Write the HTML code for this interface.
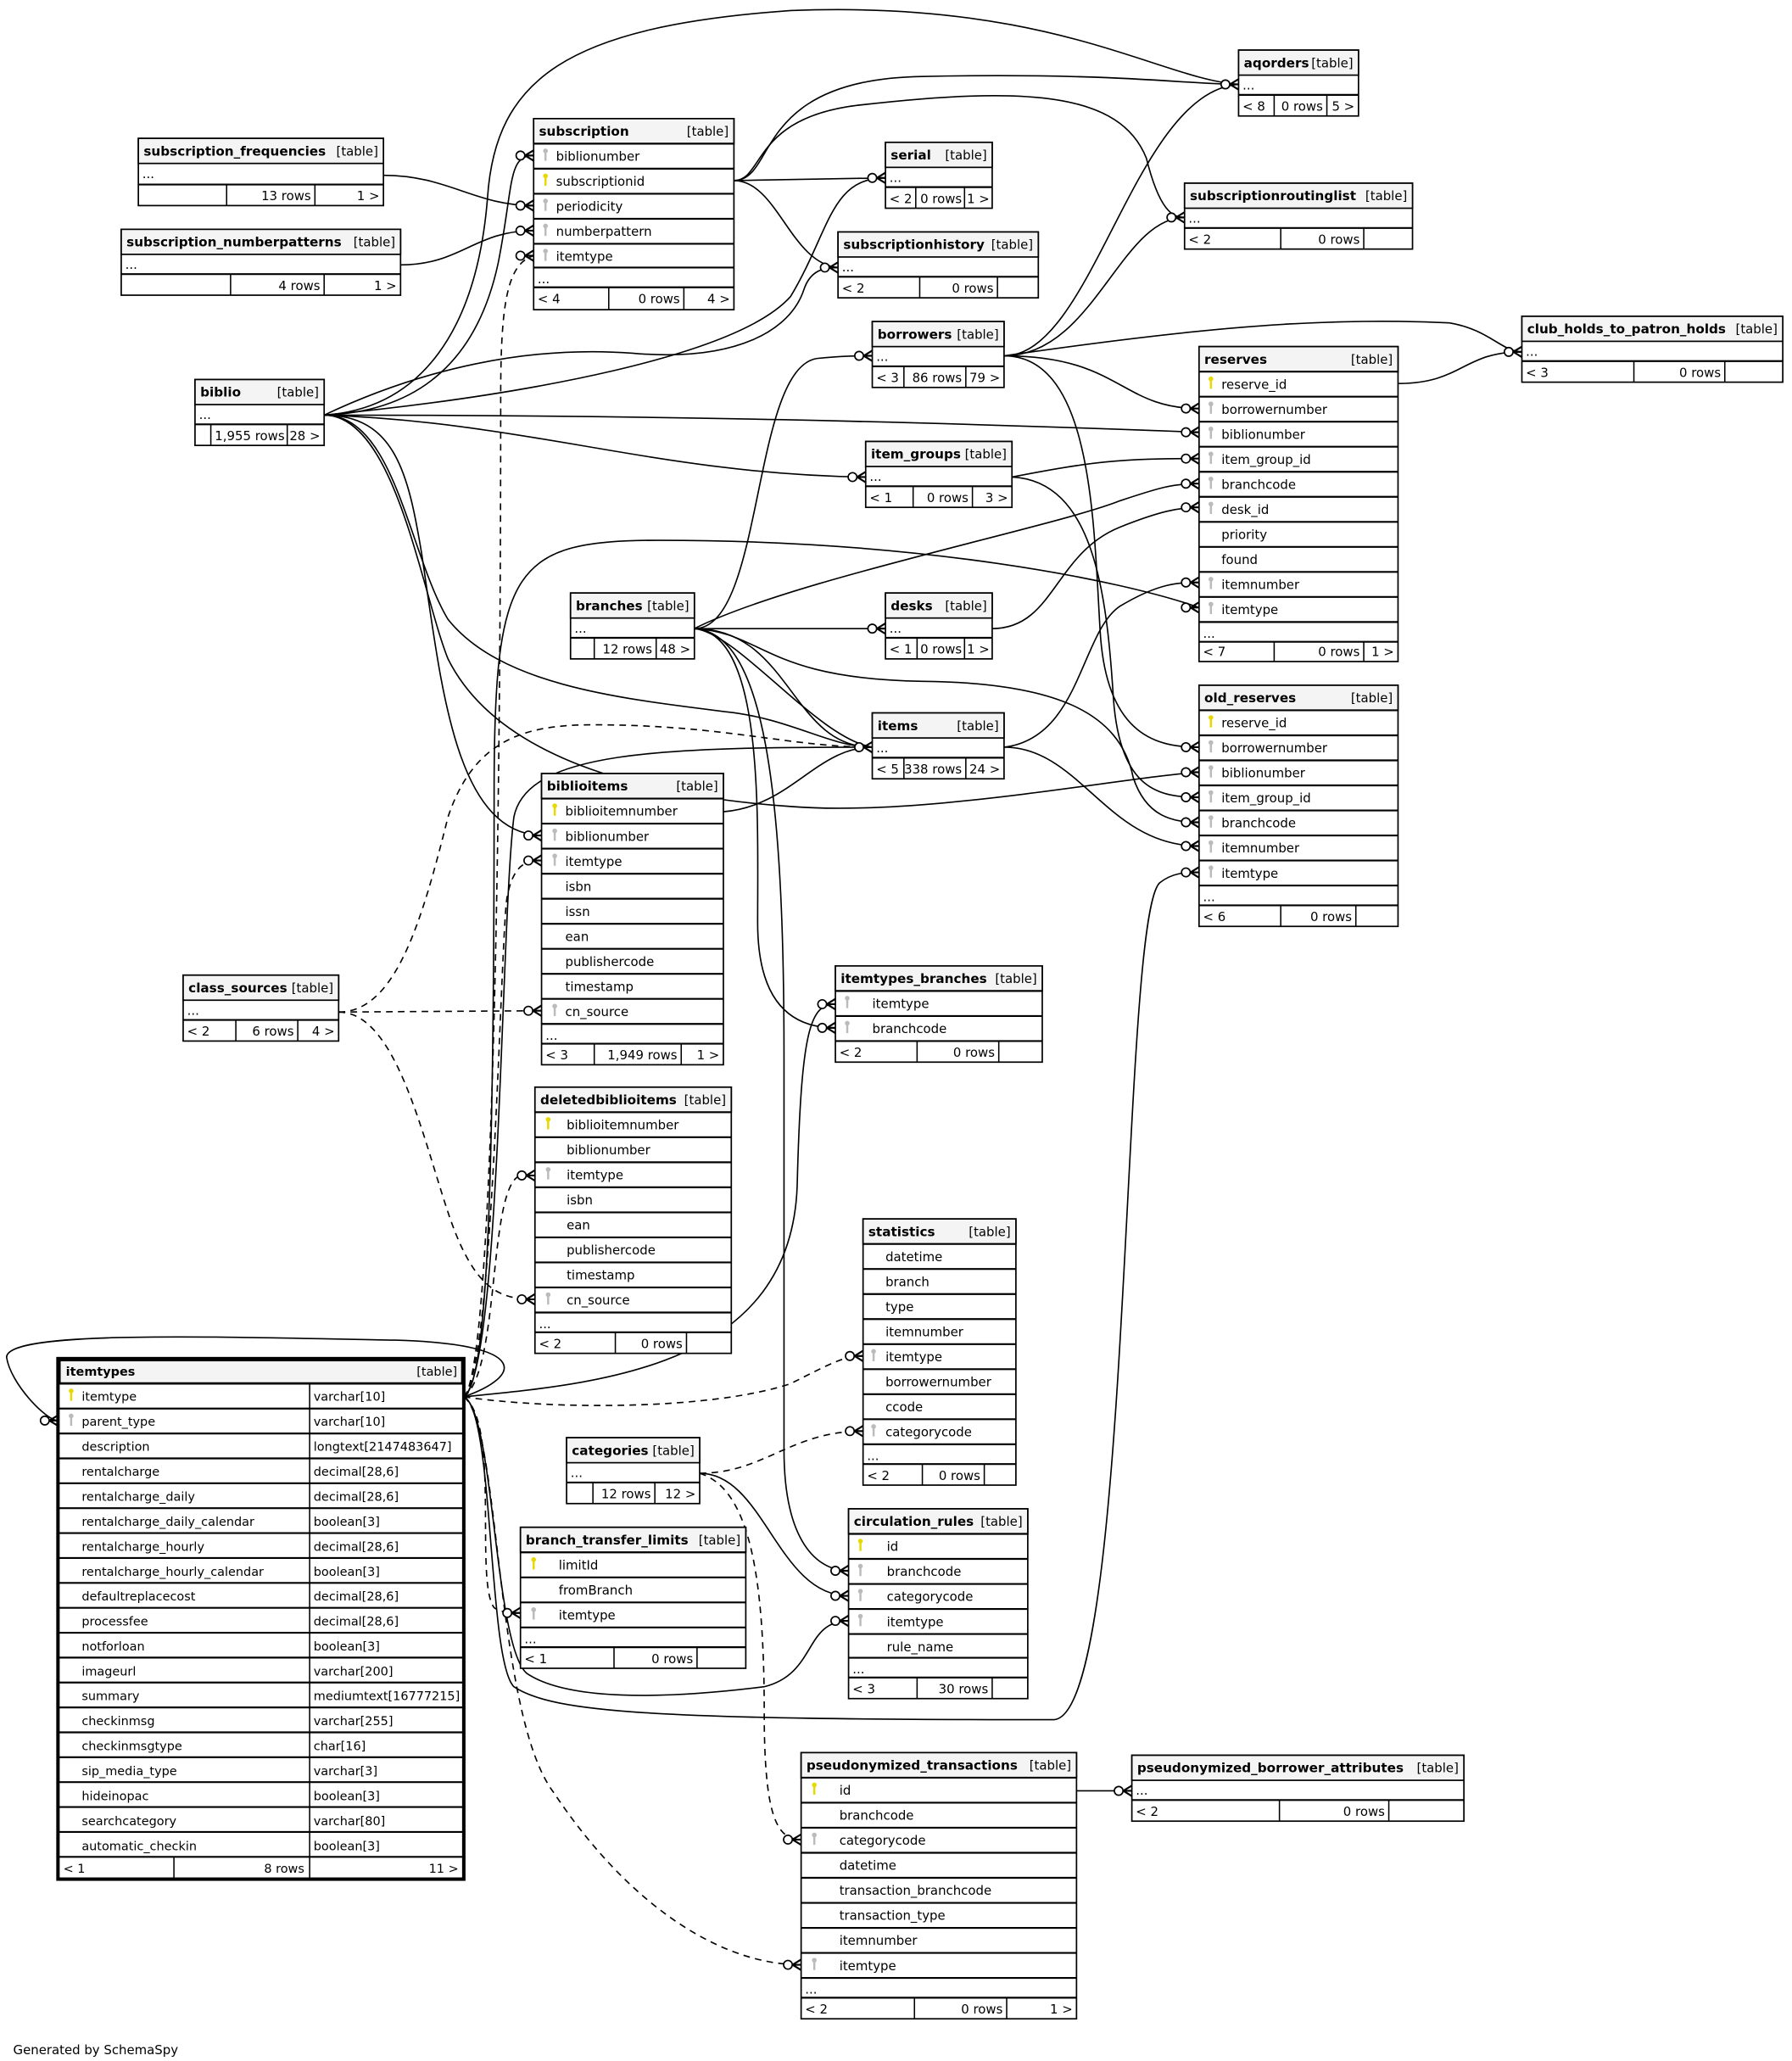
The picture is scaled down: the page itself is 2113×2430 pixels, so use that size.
<!DOCTYPE html>
<html><head><meta charset="utf-8"><style>
html,body{margin:0;padding:0;background:#fff}
svg{display:block}
text{font-family:"DejaVu Sans","Liberation Sans",sans-serif;font-size:9.6px;fill:#000}
.n{font-weight:bold;font-size:9.8px}
.e{text-anchor:end}
.t{fill:#fff;stroke:#000;stroke-width:1.1}
.h{fill:#f4f4f4;stroke:#000;stroke-width:1.1}
.l{stroke:#000;stroke-width:1.4}
.d{stroke:#000;stroke-width:1}
.c{fill:none;stroke:#000;stroke-width:1.05}
.x{fill:none;stroke:#000;stroke-width:1.05;stroke-dasharray:5,4}
.pk{fill:#e6d800}
.fk{fill:#bbb}
.it text{font-size:9.3px}
</style></head><body>
<svg width="2113" height="2430" viewBox="0 0 1360 1564" xmlns="http://www.w3.org/2000/svg">
<defs>
<g id="cf"><circle cx="-10" cy="0" r="3.3" fill="#fff" stroke="#000" stroke-width="1.1"/><path d="M-6.5,0 L0,-4 M-6.5,0 L0,0 M-6.5,0 L0,4" stroke="#000" stroke-width="1.4" fill="none"/></g>
<g id="kp"><circle cx="0" cy="-2.5" r="1.8" class="pk"/><rect x="-0.8" y="-2" width="1.6" height="7" class="pk"/></g>
<g id="kf"><circle cx="0" cy="-2.5" r="1.8" class="fk"/><rect x="-0.8" y="-2" width="1.6" height="7" class="fk"/></g>
</defs>
<rect width="1360" height="1564" fill="#fff"/>

<g>
<path class="c" d="M246,315 C330,312 365,260 378,200 C390,140 385,118 405,118"/>
<path class="c" d="M246,315 C320,310 362,250 370,150 C376,60 430,20 600,8 C800,0 880,60 940,64"/>
<path class="c" d="M246,315 C320,280 400,262 480,268 C560,275 600,250 610,220 C615,205 625,203 636,203"/>
<path class="c" d="M246,315 C400,300 560,270 600,225 C630,175 630,135 672,135"/>
<path class="c" d="M246,315 C500,315 700,320 910,328"/>
<path class="c" d="M246,315 C400,320 500,360 657,362"/>
<path class="c" d="M246,315 C300,315 310,360 320,420 C335,520 345,632 411,634"/>
<path class="c" d="M246,315 C300,315 310,420 340,470 C380,520 470,530 550,540 C600,545 630,567 662,567"/>
<path class="c" d="M246,315 C300,315 320,450 340,500 C380,580 500,605 600,612 C700,620 850,590 910,586"/>
<path class="c" d="M557,137 L672,135"/>
<path class="c" d="M557,137 C590,137 600,200 636,203"/>
<path class="c" d="M557,137 C580,137 570,90 650,80 C780,65 850,70 870,120 C880,160 890,165 899,165"/>
<path class="c" d="M557,137 C590,137 570,60 700,58 C850,55 900,64 940,64"/>
<path class="c" d="M291,133 C340,133 360,156 405,156"/>
<path class="c" d="M304,201 C350,201 360,175 405,175"/>
<path class="c" d="M762,270 C830,270 860,70 940,64"/>
<path class="c" d="M762,270 C830,270 850,165 899,165"/>
<path class="c" d="M762,270 C900,250 1000,240 1100,245 C1130,250 1140,267 1155,267"/>
<path class="c" d="M762,270 C850,270 850,310 910,310"/>
<path class="c" d="M762,270 C830,270 830,400 835,480 C840,560 880,567 910,567"/>
<path class="c" d="M1061,291 C1110,291 1110,267 1155,267"/>
<path class="c" d="M768,362 C830,350 850,348 910,348"/>
<path class="c" d="M768,362 C830,365 840,450 845,530 C850,600 880,605 910,605"/>
<path class="c" d="M527,477 C580,477 570,280 620,272 C640,270 650,270 662,270"/>
<path class="c" d="M527,477 C600,440 800,400 850,380 C880,370 890,367 910,367"/>
<path class="c" d="M527,477 L672,477"/>
<path class="c" d="M527,477 C600,477 600,567 662,567"/>
<path class="c" d="M527,477 C560,480 620,560 662,567"/>
<path class="c" d="M527,477 C580,480 580,515 700,517 C800,518 850,540 860,590 C870,620 890,624 910,624"/>
<path class="c" d="M527,477 C580,480 575,620 575,700 C575,760 600,780 634,780"/>
<path class="c" d="M527,477 C580,480 595,600 595,800 L595,1100 C595,1170 620,1192 644,1192"/>
<path class="c" d="M753,477 C800,477 800,420 850,400 C880,388 895,385 910,385"/>
<path class="c" d="M762,567 C820,560 820,480 850,460 C880,442 895,442 910,442"/>
<path class="c" d="M762,567 C820,567 840,642 910,642"/>
<path class="c" d="M549,616 C600,612 620,567 662,567"/>
<path class="c" d="M352,1060 C395,1045 405,1020 300,1017 C150,1014 5,1010 5,1030 C8,1050 35,1078 44,1078"/>
<path class="c" d="M352,1060 C370,1050 375,900 375,600 C375,430 390,410 500,410 C700,410 850,440 910,461"/>
<path class="c" d="M352,1060 C375,1070 370,1260 390,1280 C420,1300 500,1305 800,1305 C860,1300 850,700 880,670 C890,662 900,662 910,662"/>
<path class="c" d="M352,1060 C375,1070 375,1250 400,1270 C430,1290 500,1290 580,1280 C620,1270 610,1230 644,1230"/>
<path class="c" d="M352,1060 C450,1050 600,1040 605,900 C608,780 615,762 634,762"/>
<path class="c" d="M352,1060 C380,1040 380,700 390,620 C400,570 500,567 662,567"/>
<path class="x" d="M352,1060 C375,1040 380,600 380,300 C380,230 385,200 405,194"/>
<path class="x" d="M352,1060 C375,1040 380,700 385,680 C390,655 400,653 411,653"/>
<path class="x" d="M352,1060 C380,1040 370,900 395,892 L406,892"/>
<path class="x" d="M352,1060 C420,1070 540,1070 600,1050 C630,1035 640,1029 655,1029"/>
<path class="x" d="M352,1060 C380,1080 360,1200 375,1220 C380,1224 390,1224 395,1224"/>
<path class="x" d="M352,1060 C380,1080 375,1300 420,1360 C480,1450 550,1491 608,1491"/>
<path class="x" d="M257,768 L411,767"/>
<path class="x" d="M257,768 C300,768 320,860 340,920 C360,980 380,986 406,986"/>
<path class="x" d="M257,768 C300,768 320,700 340,620 C360,560 400,550 450,550 C550,550 600,567 662,567"/>
<path class="x" d="M531,1118 C580,1118 600,1086 655,1086"/>
<path class="c" d="M531,1118 C580,1118 590,1211 644,1211"/>
<path class="x" d="M531,1118 C570,1130 580,1200 580,1300 C580,1380 590,1396 608,1396"/>
<path class="c" d="M817,1359 L859,1359"/>
</g>

<g><rect class="t" x="940" y="38" width="91" height="50"/><rect class="h" x="940" y="38" width="91" height="19"/>
<text class="n" x="944" y="51">aqorders</text><text class="e" x="1027" y="51">[table]</text>
<text x="943" y="68">...</text><line class="l" x1="940" y1="72" x2="1031" y2="72"/>
<line class="d" x1="967" y1="72" x2="967" y2="88"/><line class="d" x1="1007" y1="72" x2="1007" y2="88"/>
<text x="943" y="84">&lt; 8</text><text class="e" x="1004" y="84">0 rows</text><text class="e" x="1028" y="84">5 &gt;</text></g>

<g><rect class="t" x="105" y="105" width="186" height="51"/><rect class="h" x="105" y="105" width="186" height="19"/>
<text class="n" x="109" y="118">subscription_frequencies</text><text class="e" x="287" y="118">[table]</text>
<text x="108" y="135">...</text><line class="l" x1="105" y1="140" x2="291" y2="140"/>
<line class="d" x1="172" y1="140" x2="172" y2="156"/><line class="d" x1="239" y1="140" x2="239" y2="156"/>
<text class="e" x="236" y="152">13 rows</text><text class="e" x="288" y="152">1 &gt;</text></g>

<g><rect class="t" x="92" y="174" width="212" height="50"/><rect class="h" x="92" y="174" width="212" height="19"/>
<text class="n" x="96" y="187">subscription_numberpatterns</text><text class="e" x="300" y="187">[table]</text>
<text x="95" y="204">...</text><line class="l" x1="92" y1="208" x2="304" y2="208"/>
<line class="d" x1="175" y1="208" x2="175" y2="224"/><line class="d" x1="246" y1="208" x2="246" y2="224"/>
<text class="e" x="243" y="220">4 rows</text><text class="e" x="301" y="220">1 &gt;</text></g>

<g><rect class="t" x="405" y="90" width="152" height="145"/><rect class="h" x="405" y="90" width="152" height="19"/>
<text class="n" x="409" y="103">subscription</text><text class="e" x="553" y="103">[table]</text>
<line class="l" x1="405" y1="109" x2="557" y2="109"/><use href="#kf" x="414" y="117"/><text x="422" y="122">biblionumber</text>
<line class="l" x1="405" y1="128" x2="557" y2="128"/><use href="#kp" x="414" y="136"/><text x="422" y="141">subscriptionid</text>
<line class="l" x1="405" y1="147" x2="557" y2="147"/><use href="#kf" x="414" y="155"/><text x="422" y="160">periodicity</text>
<line class="l" x1="405" y1="166" x2="557" y2="166"/><use href="#kf" x="414" y="174"/><text x="422" y="179">numberpattern</text>
<line class="l" x1="405" y1="185" x2="557" y2="185"/><use href="#kf" x="414" y="193"/><text x="422" y="198">itemtype</text>
<line class="l" x1="405" y1="203" x2="557" y2="203"/><text x="408" y="215">...</text>
<line class="l" x1="405" y1="218" x2="557" y2="218"/>
<line class="d" x1="462" y1="218" x2="462" y2="235"/><line class="d" x1="519" y1="218" x2="519" y2="235"/>
<text x="408" y="230">&lt; 4</text><text class="e" x="516" y="230">0 rows</text><text class="e" x="554" y="230">4 &gt;</text></g>

<g><rect class="t" x="672" y="108" width="81" height="50"/><rect class="h" x="672" y="108" width="81" height="19"/>
<text class="n" x="676" y="121">serial</text><text class="e" x="749" y="121">[table]</text>
<text x="675" y="138">...</text><line class="l" x1="672" y1="142" x2="753" y2="142"/>
<line class="d" x1="695" y1="142" x2="695" y2="158"/><line class="d" x1="732" y1="142" x2="732" y2="158"/>
<text x="675" y="154">&lt; 2</text><text class="e" x="730" y="154">0 rows</text><text class="e" x="751" y="154">1 &gt;</text></g>

<g><rect class="t" x="636" y="176" width="152" height="50"/><rect class="h" x="636" y="176" width="152" height="19"/>
<text class="n" x="640" y="189">subscriptionhistory</text><text class="e" x="784" y="189">[table]</text>
<text x="639" y="206">...</text><line class="l" x1="636" y1="210" x2="788" y2="210"/>
<line class="d" x1="698" y1="210" x2="698" y2="226"/><line class="d" x1="757" y1="210" x2="757" y2="226"/>
<text x="639" y="222">&lt; 2</text><text class="e" x="754" y="222">0 rows</text></g>

<g><rect class="t" x="899" y="139" width="173" height="50"/><rect class="h" x="899" y="139" width="173" height="19"/>
<text class="n" x="903" y="152">subscriptionroutinglist</text><text class="e" x="1068" y="152">[table]</text>
<text x="902" y="169">...</text><line class="l" x1="899" y1="173" x2="1072" y2="173"/>
<line class="d" x1="972" y1="173" x2="972" y2="189"/><line class="d" x1="1035" y1="173" x2="1035" y2="189"/>
<text x="902" y="185">&lt; 2</text><text class="e" x="1032" y="185">0 rows</text></g>

<g><rect class="t" x="662" y="244" width="100" height="50"/><rect class="h" x="662" y="244" width="100" height="19"/>
<text class="n" x="666" y="257">borrowers</text><text class="e" x="758" y="257">[table]</text>
<text x="665" y="274">...</text><line class="l" x1="662" y1="278" x2="762" y2="278"/>
<line class="d" x1="686" y1="278" x2="686" y2="294"/><line class="d" x1="733" y1="278" x2="733" y2="294"/>
<text x="665" y="290">&lt; 3</text><text class="e" x="730" y="290">86 rows</text><text class="e" x="759" y="290">79 &gt;</text></g>

<g><rect class="t" x="1155" y="240" width="198" height="50"/><rect class="h" x="1155" y="240" width="198" height="19"/>
<text class="n" x="1159" y="253">club_holds_to_patron_holds</text><text class="e" x="1349" y="253">[table]</text>
<text x="1158" y="270">...</text><line class="l" x1="1155" y1="274" x2="1353" y2="274"/>
<line class="d" x1="1240" y1="274" x2="1240" y2="290"/><line class="d" x1="1309" y1="274" x2="1309" y2="290"/>
<text x="1158" y="286">&lt; 3</text><text class="e" x="1306" y="286">0 rows</text></g>

<g><rect class="t" x="148" y="288" width="98" height="50"/><rect class="h" x="148" y="288" width="98" height="19"/>
<text class="n" x="152" y="301">biblio</text><text class="e" x="242" y="301">[table]</text>
<text x="151" y="318">...</text><line class="l" x1="148" y1="322" x2="246" y2="322"/>
<line class="d" x1="160" y1="322" x2="160" y2="338"/><line class="d" x1="218" y1="322" x2="218" y2="338"/>
<text class="e" x="216" y="334">1,955 rows</text><text class="e" x="243" y="334">28 &gt;</text></g>

<g><rect class="t" x="910" y="263" width="151" height="239"/><rect class="h" x="910" y="263" width="151" height="19"/>
<text class="n" x="914" y="276">reserves</text><text class="e" x="1057" y="276">[table]</text>
<line class="l" x1="910" y1="282" x2="1061" y2="282"/><use href="#kp" x="919" y="290"/><text x="927" y="295">reserve_id</text>
<line class="l" x1="910" y1="301" x2="1061" y2="301"/><use href="#kf" x="919" y="309"/><text x="927" y="314">borrowernumber</text>
<line class="l" x1="910" y1="320" x2="1061" y2="320"/><use href="#kf" x="919" y="328"/><text x="927" y="333">biblionumber</text>
<line class="l" x1="910" y1="339" x2="1061" y2="339"/><use href="#kf" x="919" y="347"/><text x="927" y="352">item_group_id</text>
<line class="l" x1="910" y1="358" x2="1061" y2="358"/><use href="#kf" x="919" y="366"/><text x="927" y="371">branchcode</text>
<line class="l" x1="910" y1="377" x2="1061" y2="377"/><use href="#kf" x="919" y="385"/><text x="927" y="390">desk_id</text>
<line class="l" x1="910" y1="396" x2="1061" y2="396"/><text x="927" y="409">priority</text>
<line class="l" x1="910" y1="415" x2="1061" y2="415"/><text x="927" y="428">found</text>
<line class="l" x1="910" y1="434" x2="1061" y2="434"/><use href="#kf" x="919" y="442"/><text x="927" y="447">itemnumber</text>
<line class="l" x1="910" y1="453" x2="1061" y2="453"/><use href="#kf" x="919" y="461"/><text x="927" y="466">itemtype</text>
<line class="l" x1="910" y1="472" x2="1061" y2="472"/><text x="913" y="484">...</text>
<line class="l" x1="910" y1="487" x2="1061" y2="487"/>
<line class="d" x1="967" y1="487" x2="967" y2="502"/><line class="d" x1="1035" y1="487" x2="1035" y2="502"/>
<text x="913" y="498">&lt; 7</text><text class="e" x="1032" y="498">0 rows</text><text class="e" x="1058" y="498">1 &gt;</text></g>

<g><rect class="t" x="657" y="335" width="111" height="50"/><rect class="h" x="657" y="335" width="111" height="19"/>
<text class="n" x="661" y="348">item_groups</text><text class="e" x="764" y="348">[table]</text>
<text x="660" y="365">...</text><line class="l" x1="657" y1="369" x2="768" y2="369"/>
<line class="d" x1="693" y1="369" x2="693" y2="385"/><line class="d" x1="738" y1="369" x2="738" y2="385"/>
<text x="660" y="381">&lt; 1</text><text class="e" x="735" y="381">0 rows</text><text class="e" x="765" y="381">3 &gt;</text></g>

<g><rect class="t" x="433" y="450" width="94" height="50"/><rect class="h" x="433" y="450" width="94" height="19"/>
<text class="n" x="437" y="463">branches</text><text class="e" x="523" y="463">[table]</text>
<text x="436" y="480">...</text><line class="l" x1="433" y1="484" x2="527" y2="484"/>
<line class="d" x1="451" y1="484" x2="451" y2="500"/><line class="d" x1="498" y1="484" x2="498" y2="500"/>
<text class="e" x="495" y="496">12 rows</text><text class="e" x="524" y="496">48 &gt;</text></g>

<g><rect class="t" x="672" y="450" width="81" height="50"/><rect class="h" x="672" y="450" width="81" height="19"/>
<text class="n" x="676" y="463">desks</text><text class="e" x="749" y="463">[table]</text>
<text x="675" y="480">...</text><line class="l" x1="672" y1="484" x2="753" y2="484"/>
<line class="d" x1="696" y1="484" x2="696" y2="500"/><line class="d" x1="732" y1="484" x2="732" y2="500"/>
<text x="675" y="496">&lt; 1</text><text class="e" x="730" y="496">0 rows</text><text class="e" x="751" y="496">1 &gt;</text></g>

<g><rect class="t" x="662" y="541" width="100" height="50"/><rect class="h" x="662" y="541" width="100" height="19"/>
<text class="n" x="666" y="554">items</text><text class="e" x="758" y="554">[table]</text>
<text x="665" y="571">...</text><line class="l" x1="662" y1="575" x2="762" y2="575"/>
<line class="d" x1="686" y1="575" x2="686" y2="591"/><line class="d" x1="733" y1="575" x2="733" y2="591"/>
<text x="665" y="587">&lt; 5</text><text class="e" x="730" y="587">338 rows</text><text class="e" x="759" y="587">24 &gt;</text></g>

<g><rect class="t" x="910" y="520" width="151" height="183"/><rect class="h" x="910" y="520" width="151" height="19"/>
<text class="n" x="914" y="533">old_reserves</text><text class="e" x="1057" y="533">[table]</text>
<line class="l" x1="910" y1="539" x2="1061" y2="539"/><use href="#kp" x="919" y="547"/><text x="927" y="552">reserve_id</text>
<line class="l" x1="910" y1="558" x2="1061" y2="558"/><use href="#kf" x="919" y="566"/><text x="927" y="571">borrowernumber</text>
<line class="l" x1="910" y1="577" x2="1061" y2="577"/><use href="#kf" x="919" y="585"/><text x="927" y="590">biblionumber</text>
<line class="l" x1="910" y1="596" x2="1061" y2="596"/><use href="#kf" x="919" y="604"/><text x="927" y="609">item_group_id</text>
<line class="l" x1="910" y1="615" x2="1061" y2="615"/><use href="#kf" x="919" y="623"/><text x="927" y="628">branchcode</text>
<line class="l" x1="910" y1="634" x2="1061" y2="634"/><use href="#kf" x="919" y="642"/><text x="927" y="647">itemnumber</text>
<line class="l" x1="910" y1="653" x2="1061" y2="653"/><use href="#kf" x="919" y="661"/><text x="927" y="666">itemtype</text>
<line class="l" x1="910" y1="672" x2="1061" y2="672"/><text x="913" y="684">...</text>
<line class="l" x1="910" y1="687" x2="1061" y2="687"/>
<line class="d" x1="972" y1="687" x2="972" y2="703"/><line class="d" x1="1029" y1="687" x2="1029" y2="703"/>
<text x="913" y="699">&lt; 6</text><text class="e" x="1026" y="699">0 rows</text></g>

<g><rect class="t" x="411" y="587" width="138" height="221"/><rect class="h" x="411" y="587" width="138" height="19"/>
<text class="n" x="415" y="600">biblioitems</text><text class="e" x="545" y="600">[table]</text>
<line class="l" x1="411" y1="606" x2="549" y2="606"/><use href="#kp" x="421" y="614"/><text x="429" y="619">biblioitemnumber</text>
<line class="l" x1="411" y1="625" x2="549" y2="625"/><use href="#kf" x="421" y="633"/><text x="429" y="638">biblionumber</text>
<line class="l" x1="411" y1="644" x2="549" y2="644"/><use href="#kf" x="421" y="652"/><text x="429" y="657">itemtype</text>
<line class="l" x1="411" y1="663" x2="549" y2="663"/><text x="429" y="676">isbn</text>
<line class="l" x1="411" y1="682" x2="549" y2="682"/><text x="429" y="695">issn</text>
<line class="l" x1="411" y1="701" x2="549" y2="701"/><text x="429" y="714">ean</text>
<line class="l" x1="411" y1="720" x2="549" y2="720"/><text x="429" y="733">publishercode</text>
<line class="l" x1="411" y1="739" x2="549" y2="739"/><text x="429" y="752">timestamp</text>
<line class="l" x1="411" y1="758" x2="549" y2="758"/><use href="#kf" x="421" y="766"/><text x="429" y="771">cn_source</text>
<line class="l" x1="411" y1="777" x2="549" y2="777"/><text x="414" y="789">...</text>
<line class="l" x1="411" y1="792" x2="549" y2="792"/>
<line class="d" x1="451" y1="792" x2="451" y2="808"/><line class="d" x1="517" y1="792" x2="517" y2="808"/>
<text x="414" y="804">&lt; 3</text><text class="e" x="514" y="804">1,949 rows</text><text class="e" x="546" y="804">1 &gt;</text></g>

<g><rect class="t" x="139" y="740" width="118" height="50"/><rect class="h" x="139" y="740" width="118" height="19"/>
<text class="n" x="143" y="753">class_sources</text><text class="e" x="253" y="753">[table]</text>
<text x="142" y="770">...</text><line class="l" x1="139" y1="774" x2="257" y2="774"/>
<line class="d" x1="179" y1="774" x2="179" y2="790"/><line class="d" x1="226" y1="774" x2="226" y2="790"/>
<text x="142" y="786">&lt; 2</text><text class="e" x="223" y="786">6 rows</text><text class="e" x="254" y="786">4 &gt;</text></g>

<g><rect class="t" x="634" y="733" width="157" height="73"/><rect class="h" x="634" y="733" width="157" height="19"/>
<text class="n" x="638" y="746">itemtypes_branches</text><text class="e" x="787" y="746">[table]</text>
<line class="l" x1="634" y1="752" x2="791" y2="752"/><use href="#kf" x="643" y="760"/><text x="662" y="765">itemtype</text>
<line class="l" x1="634" y1="771" x2="791" y2="771"/><use href="#kf" x="643" y="779"/><text x="662" y="784">branchcode</text>
<line class="l" x1="634" y1="790" x2="791" y2="790"/>
<line class="d" x1="696" y1="790" x2="696" y2="806"/><line class="d" x1="758" y1="790" x2="758" y2="806"/>
<text x="637" y="802">&lt; 2</text><text class="e" x="755" y="802">0 rows</text></g>

<g><rect class="t" x="406" y="825" width="149" height="202"/><rect class="h" x="406" y="825" width="149" height="19"/>
<text class="n" x="410" y="838">deletedbiblioitems</text><text class="e" x="551" y="838">[table]</text>
<line class="l" x1="406" y1="844" x2="555" y2="844"/><use href="#kp" x="416" y="852"/><text x="430" y="857">biblioitemnumber</text>
<line class="l" x1="406" y1="863" x2="555" y2="863"/><text x="430" y="876">biblionumber</text>
<line class="l" x1="406" y1="882" x2="555" y2="882"/><use href="#kf" x="416" y="890"/><text x="430" y="895">itemtype</text>
<line class="l" x1="406" y1="901" x2="555" y2="901"/><text x="430" y="914">isbn</text>
<line class="l" x1="406" y1="920" x2="555" y2="920"/><text x="430" y="933">ean</text>
<line class="l" x1="406" y1="939" x2="555" y2="939"/><text x="430" y="952">publishercode</text>
<line class="l" x1="406" y1="958" x2="555" y2="958"/><text x="430" y="971">timestamp</text>
<line class="l" x1="406" y1="977" x2="555" y2="977"/><use href="#kf" x="416" y="985"/><text x="430" y="990">cn_source</text>
<line class="l" x1="406" y1="996" x2="555" y2="996"/><text x="409" y="1008">...</text>
<line class="l" x1="406" y1="1011" x2="555" y2="1011"/>
<line class="d" x1="467" y1="1011" x2="467" y2="1027"/><line class="d" x1="521" y1="1011" x2="521" y2="1027"/>
<text x="409" y="1023">&lt; 2</text><text class="e" x="518" y="1023">0 rows</text></g>

<g><rect class="t" x="655" y="925" width="116" height="202"/><rect class="h" x="655" y="925" width="116" height="19"/>
<text class="n" x="659" y="938">statistics</text><text class="e" x="767" y="938">[table]</text>
<line class="l" x1="655" y1="944" x2="771" y2="944"/><text x="672" y="957">datetime</text>
<line class="l" x1="655" y1="963" x2="771" y2="963"/><text x="672" y="976">branch</text>
<line class="l" x1="655" y1="982" x2="771" y2="982"/><text x="672" y="995">type</text>
<line class="l" x1="655" y1="1001" x2="771" y2="1001"/><text x="672" y="1014">itemnumber</text>
<line class="l" x1="655" y1="1020" x2="771" y2="1020"/><use href="#kf" x="663" y="1028"/><text x="672" y="1033">itemtype</text>
<line class="l" x1="655" y1="1039" x2="771" y2="1039"/><text x="672" y="1052">borrowernumber</text>
<line class="l" x1="655" y1="1058" x2="771" y2="1058"/><text x="672" y="1071">ccode</text>
<line class="l" x1="655" y1="1077" x2="771" y2="1077"/><use href="#kf" x="663" y="1085"/><text x="672" y="1090">categorycode</text>
<line class="l" x1="655" y1="1096" x2="771" y2="1096"/><text x="658" y="1108">...</text>
<line class="l" x1="655" y1="1111" x2="771" y2="1111"/>
<line class="d" x1="700" y1="1111" x2="700" y2="1127"/><line class="d" x1="747" y1="1111" x2="747" y2="1127"/>
<text x="658" y="1123">&lt; 2</text><text class="e" x="744" y="1123">0 rows</text></g>

<g><rect class="t" x="430" y="1091" width="101" height="50"/><rect class="h" x="430" y="1091" width="101" height="19"/>
<text class="n" x="434" y="1104">categories</text><text class="e" x="527" y="1104">[table]</text>
<text x="433" y="1121">...</text><line class="l" x1="430" y1="1125" x2="531" y2="1125"/>
<line class="d" x1="450" y1="1125" x2="450" y2="1141"/><line class="d" x1="497" y1="1125" x2="497" y2="1141"/>
<text class="e" x="494" y="1137">12 rows</text><text class="e" x="528" y="1137">12 &gt;</text></g>

<g><rect class="t" x="395" y="1159" width="171" height="107"/><rect class="h" x="395" y="1159" width="171" height="19"/>
<text class="n" x="399" y="1172">branch_transfer_limits</text><text class="e" x="562" y="1172">[table]</text>
<line class="l" x1="395" y1="1178" x2="566" y2="1178"/><use href="#kp" x="405" y="1186"/><text x="424" y="1191">limitId</text>
<line class="l" x1="395" y1="1197" x2="566" y2="1197"/><text x="424" y="1210">fromBranch</text>
<line class="l" x1="395" y1="1216" x2="566" y2="1216"/><use href="#kf" x="405" y="1224"/><text x="424" y="1229">itemtype</text>
<line class="l" x1="395" y1="1235" x2="566" y2="1235"/><text x="398" y="1247">...</text>
<line class="l" x1="395" y1="1250" x2="566" y2="1250"/>
<line class="d" x1="466" y1="1250" x2="466" y2="1266"/><line class="d" x1="529" y1="1250" x2="529" y2="1266"/>
<text x="398" y="1262">&lt; 1</text><text class="e" x="526" y="1262">0 rows</text></g>

<g><rect class="t" x="644" y="1145" width="136" height="144"/><rect class="h" x="644" y="1145" width="136" height="19"/>
<text class="n" x="648" y="1158">circulation_rules</text><text class="e" x="776" y="1158">[table]</text>
<line class="l" x1="644" y1="1164" x2="780" y2="1164"/><use href="#kp" x="653" y="1172"/><text x="673" y="1177">id</text>
<line class="l" x1="644" y1="1183" x2="780" y2="1183"/><use href="#kf" x="653" y="1191"/><text x="673" y="1196">branchcode</text>
<line class="l" x1="644" y1="1202" x2="780" y2="1202"/><use href="#kf" x="653" y="1210"/><text x="673" y="1215">categorycode</text>
<line class="l" x1="644" y1="1221" x2="780" y2="1221"/><use href="#kf" x="653" y="1229"/><text x="673" y="1234">itemtype</text>
<line class="l" x1="644" y1="1240" x2="780" y2="1240"/><text x="673" y="1253">rule_name</text>
<line class="l" x1="644" y1="1258" x2="780" y2="1258"/><text x="647" y="1270">...</text>
<line class="l" x1="644" y1="1273" x2="780" y2="1273"/>
<line class="d" x1="696" y1="1273" x2="696" y2="1289"/><line class="d" x1="753" y1="1273" x2="753" y2="1289"/>
<text x="647" y="1285">&lt; 3</text><text class="e" x="750" y="1285">30 rows</text></g>

<g><rect class="t" x="608" y="1330" width="209" height="202"/><rect class="h" x="608" y="1330" width="209" height="19"/>
<text class="n" x="612" y="1343">pseudonymized_transactions</text><text class="e" x="813" y="1343">[table]</text>
<line class="l" x1="608" y1="1349" x2="817" y2="1349"/><use href="#kp" x="618" y="1357"/><text x="637" y="1362">id</text>
<line class="l" x1="608" y1="1368" x2="817" y2="1368"/><text x="637" y="1381">branchcode</text>
<line class="l" x1="608" y1="1387" x2="817" y2="1387"/><use href="#kf" x="618" y="1395"/><text x="637" y="1400">categorycode</text>
<line class="l" x1="608" y1="1406" x2="817" y2="1406"/><text x="637" y="1419">datetime</text>
<line class="l" x1="608" y1="1425" x2="817" y2="1425"/><text x="637" y="1438">transaction_branchcode</text>
<line class="l" x1="608" y1="1444" x2="817" y2="1444"/><text x="637" y="1457">transaction_type</text>
<line class="l" x1="608" y1="1463" x2="817" y2="1463"/><text x="637" y="1476">itemnumber</text>
<line class="l" x1="608" y1="1482" x2="817" y2="1482"/><use href="#kf" x="618" y="1490"/><text x="637" y="1495">itemtype</text>
<line class="l" x1="608" y1="1501" x2="817" y2="1501"/><text x="611" y="1513">...</text>
<line class="l" x1="608" y1="1516" x2="817" y2="1516"/>
<line class="d" x1="694" y1="1516" x2="694" y2="1532"/><line class="d" x1="764" y1="1516" x2="764" y2="1532"/>
<text x="611" y="1528">&lt; 2</text><text class="e" x="761" y="1528">0 rows</text><text class="e" x="814" y="1528">1 &gt;</text></g>

<g><rect class="t" x="859" y="1332" width="252" height="50"/><rect class="h" x="859" y="1332" width="252" height="19"/>
<text class="n" x="863" y="1345">pseudonymized_borrower_attributes</text><text class="e" x="1107" y="1345">[table]</text>
<text x="862" y="1362">...</text><line class="l" x1="859" y1="1366" x2="1111" y2="1366"/>
<line class="d" x1="971" y1="1366" x2="971" y2="1382"/><line class="d" x1="1054" y1="1366" x2="1054" y2="1382"/>
<text x="862" y="1378">&lt; 2</text><text class="e" x="1051" y="1378">0 rows</text></g>

<!-- itemtypes -->
<g class="it"><rect x="44" y="1031" width="308" height="395" fill="#fff" stroke="#000" stroke-width="2.6"/><rect class="h" x="45.5" y="1032.5" width="305" height="17" stroke="none"/>
<text class="n" x="50" y="1044">itemtypes</text><text class="e" x="347" y="1044">[table]</text>
<line class="l" x1="44" y1="1050" x2="352" y2="1050"/>
<line class="d" x1="235" y1="1050" x2="235" y2="1426"/>
<use href="#kp" x="54" y="1058"/><text x="62" y="1063">itemtype</text><text x="238" y="1063">varchar[10]</text>
<line class="l" x1="44" y1="1068.9" x2="352" y2="1068.9"/><use href="#kf" x="54" y="1077"/><text x="62" y="1082">parent_type</text><text x="238" y="1082">varchar[10]</text>
<line class="l" x1="44" y1="1087.8" x2="352" y2="1087.8"/><text x="62" y="1101">description</text><text x="238" y="1101">longtext[2147483647]</text>
<line class="l" x1="44" y1="1106.7" x2="352" y2="1106.7"/><text x="62" y="1120">rentalcharge</text><text x="238" y="1120">decimal[28,6]</text>
<line class="l" x1="44" y1="1125.6" x2="352" y2="1125.6"/><text x="62" y="1139">rentalcharge_daily</text><text x="238" y="1139">decimal[28,6]</text>
<line class="l" x1="44" y1="1144.5" x2="352" y2="1144.5"/><text x="62" y="1158">rentalcharge_daily_calendar</text><text x="238" y="1158">boolean[3]</text>
<line class="l" x1="44" y1="1163.4" x2="352" y2="1163.4"/><text x="62" y="1177">rentalcharge_hourly</text><text x="238" y="1177">decimal[28,6]</text>
<line class="l" x1="44" y1="1182.3" x2="352" y2="1182.3"/><text x="62" y="1196">rentalcharge_hourly_calendar</text><text x="238" y="1196">boolean[3]</text>
<line class="l" x1="44" y1="1201.2" x2="352" y2="1201.2"/><text x="62" y="1214.5">defaultreplacecost</text><text x="238" y="1214.5">decimal[28,6]</text>
<line class="l" x1="44" y1="1220.1" x2="352" y2="1220.1"/><text x="62" y="1233.5">processfee</text><text x="238" y="1233.5">decimal[28,6]</text>
<line class="l" x1="44" y1="1239" x2="352" y2="1239"/><text x="62" y="1252.5">notforloan</text><text x="238" y="1252.5">boolean[3]</text>
<line class="l" x1="44" y1="1257.9" x2="352" y2="1257.9"/><text x="62" y="1271.5">imageurl</text><text x="238" y="1271.5">varchar[200]</text>
<line class="l" x1="44" y1="1276.8" x2="352" y2="1276.8"/><text x="62" y="1290">summary</text><text x="238" y="1290" textLength="111" lengthAdjust="spacingAndGlyphs">mediumtext[16777215]</text>
<line class="l" x1="44" y1="1295.7" x2="352" y2="1295.7"/><text x="62" y="1309">checkinmsg</text><text x="238" y="1309">varchar[255]</text>
<line class="l" x1="44" y1="1314.6" x2="352" y2="1314.6"/><text x="62" y="1328">checkinmsgtype</text><text x="238" y="1328">char[16]</text>
<line class="l" x1="44" y1="1333.5" x2="352" y2="1333.5"/><text x="62" y="1347">sip_media_type</text><text x="238" y="1347">varchar[3]</text>
<line class="l" x1="44" y1="1352.4" x2="352" y2="1352.4"/><text x="62" y="1366">hideinopac</text><text x="238" y="1366">boolean[3]</text>
<line class="l" x1="44" y1="1371.3" x2="352" y2="1371.3"/><text x="62" y="1385">searchcategory</text><text x="238" y="1385">varchar[80]</text>
<line class="l" x1="44" y1="1390.2" x2="352" y2="1390.2"/><text x="62" y="1404">automatic_checkin</text><text x="238" y="1404">boolean[3]</text>
<line class="l" x1="44" y1="1409.1" x2="352" y2="1409.1"/>
<rect x="44" y="1409.1" width="308" height="0" />
<line class="d" x1="132" y1="1409" x2="132" y2="1426"/>
<text x="48" y="1421">&lt; 1</text><text class="e" x="231" y="1421">8 rows</text><text class="e" x="348" y="1421">11 &gt;</text>
</g>

<use href="#cf" x="405" y="118"/><use href="#cf" x="405" y="156"/><use href="#cf" x="405" y="175"/><use href="#cf" x="405" y="194"/>
<use href="#cf" x="940" y="64"/><use href="#cf" x="672" y="135"/><use href="#cf" x="636" y="203"/><use href="#cf" x="899" y="165"/>
<use href="#cf" x="1155" y="267"/><use href="#cf" x="662" y="270"/><use href="#cf" x="657" y="362"/><use href="#cf" x="672" y="477"/>
<use href="#cf" x="662" y="567"/>
<use href="#cf" x="910" y="310"/><use href="#cf" x="910" y="328"/><use href="#cf" x="910" y="348"/><use href="#cf" x="910" y="367"/><use href="#cf" x="910" y="385"/><use href="#cf" x="910" y="442"/><use href="#cf" x="910" y="461"/>
<use href="#cf" x="910" y="567"/><use href="#cf" x="910" y="586"/><use href="#cf" x="910" y="605"/><use href="#cf" x="910" y="624"/><use href="#cf" x="910" y="642"/><use href="#cf" x="910" y="662"/>
<use href="#cf" x="411" y="634"/><use href="#cf" x="411" y="653"/><use href="#cf" x="411" y="767"/>
<use href="#cf" x="634" y="762"/><use href="#cf" x="634" y="780"/>
<use href="#cf" x="406" y="892"/><use href="#cf" x="406" y="986"/>
<use href="#cf" x="655" y="1029"/><use href="#cf" x="655" y="1086"/>
<use href="#cf" x="395" y="1224"/>
<use href="#cf" x="644" y="1192"/><use href="#cf" x="644" y="1211"/><use href="#cf" x="644" y="1230"/>
<use href="#cf" x="608" y="1396"/><use href="#cf" x="608" y="1491"/><use href="#cf" x="859" y="1359"/>
<use href="#cf" x="44" y="1078"/>

<text x="10" y="1559">Generated by SchemaSpy</text>
</svg>
</body></html>
